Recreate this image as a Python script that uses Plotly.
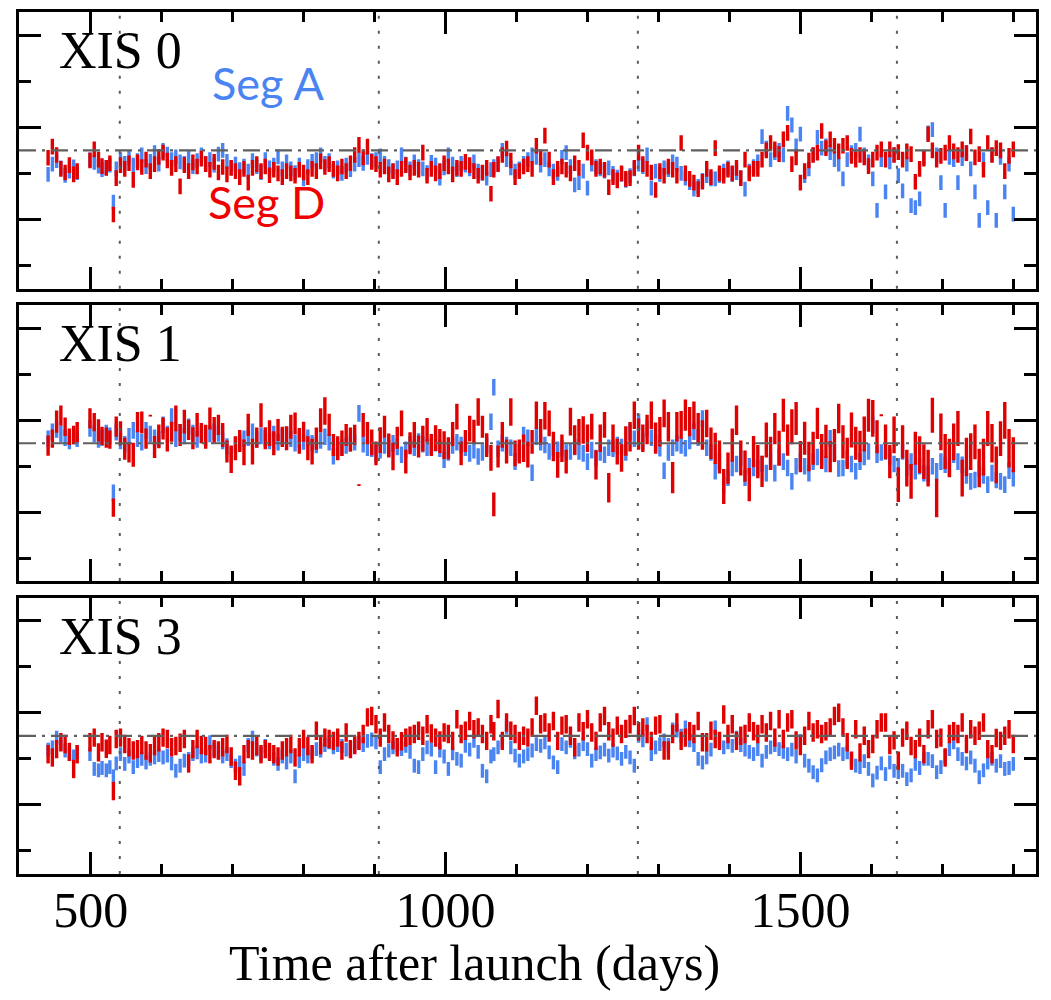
import plotly.graph_objects as go

# ---------------- data ----------------
days = [
    440, 446, 452, 458, 464, 470, 476, 481,
    499, 505, 511, 516, 522, 527, 532, 536,
    542, 548, 554, 560, 566, 572, 578, 584, 590, 596,
    602, 608, 614, 620, 626, 632, 638, 644, 650, 656,
    662, 668, 674, 680, 686, 692, 698, 704, 710, 716,
    722, 728, 734, 740, 746, 752, 758, 764, 770, 776,
    782, 788, 794, 800, 806, 812, 818, 824, 830, 836,
    842, 848, 854, 860, 866, 872, 878, 884, 890, 896,
    902, 908, 914, 920, 926, 932, 938, 944, 950, 956,
    962, 968, 974, 980, 986, 992, 998, 1004, 1010, 1016,
    1022, 1028, 1034, 1040, 1046, 1052, 1058, 1064, 1068, 1074,
    1080, 1086, 1092, 1098, 1104, 1110, 1116, 1122, 1128, 1134,
    1140, 1146, 1152, 1158, 1164, 1170, 1176, 1182, 1188, 1194,
    1200, 1206, 1212, 1218, 1224, 1230, 1236, 1242, 1248, 1254,
    1260, 1266, 1272, 1278, 1284, 1290, 1296, 1302, 1308, 1314,
    1320, 1326, 1332, 1338, 1344, 1350, 1356, 1362, 1368, 1374,
    1380, 1386, 1392, 1398, 1404, 1410, 1416, 1422, 1428, 1434,
    1440, 1446, 1452, 1458, 1464, 1470, 1476, 1482, 1488, 1494,
    1500, 1506, 1512, 1518, 1524, 1530, 1536, 1542, 1548, 1554,
    1560, 1566, 1572, 1578, 1584, 1590, 1596, 1602, 1608, 1614,
    1620, 1626, 1632, 1638, 1644, 1650, 1656, 1662, 1668, 1674,
    1680, 1686, 1692, 1698, 1704, 1710, 1716, 1722, 1728, 1734,
    1740, 1746, 1752, 1758, 1764, 1770, 1776, 1782, 1788, 1794, 1800,
]

xis0_seg_a = [
    2.98, 3.20, 3.28, 3.12, 2.96, 3.05, 3.14, 3.02,
    3.30, 3.24, 3.16, 3.08, 3.12, 3.18, 2.38, 3.10,
    3.30, 3.22, 3.35, 3.18, 3.28, 3.40, 3.15, 3.26, 3.45, 3.20,
    3.50, 3.42, 3.30, 3.36, 3.25, 3.22, 3.34, 3.15, 3.28, 3.40,
    3.22, 3.30, 3.18, 3.42, 3.50, 3.26, 3.12, 3.20, 3.08, 3.16,
    3.05, 3.28, 3.15, 3.02, 3.30, 3.12, 3.18, 3.36, 3.10, 3.25,
    3.10, 3.02, 3.18, 2.88, 3.15, 3.26, 3.30, 3.40, 3.22, 3.28,
    3.05, 3.12, 3.00, 3.18, 3.08, 3.20, 3.30, 3.22, 3.35, 3.28,
    3.30, 3.38, 3.22, 3.15, 3.05, 3.12, 3.40, 3.20, 3.10, 3.25,
    3.15, 3.10, 3.02, 3.24, 3.18, 2.90, 3.12, 3.40, 3.20, 3.08,
    3.22, 3.18, 3.10, 3.25, 3.05, 3.00, 2.90, 3.08, 3.15, 3.20,
    3.50, 3.30, 3.12, 3.05, 3.10, 3.22, 3.30, 3.40, 3.35, 3.18,
    3.30, 3.10, 3.05, 3.00, 3.35, 3.45, 3.15, 2.75, 2.80, 3.05,
    2.68, 3.20, 3.15, 3.10, 3.05, 3.12, 3.00, 2.92, 2.98, 2.85,
    2.95, 3.10, 3.20, 3.15, 3.40, 2.68, 3.05, 2.98, 3.12, 3.08,
    3.25, 3.20, 3.00, 2.90, 2.80, 2.66, 2.72, 2.85, 2.95, 2.88,
    2.88, 2.95, 3.05, 3.12, 2.98, 3.02, 2.90, 2.66, 3.05, 3.15,
    3.25, 3.80, 3.55, 3.30, 3.45, 3.50, 3.40, 4.30, 4.05, 3.60,
    3.85, 2.95, 3.10, 3.40, 3.78, 3.55, 3.60, 3.45, 3.30, 3.20,
    2.88, 3.30, 3.45, 3.50, 3.85, 3.40, 3.25, 2.88, 2.20, 3.30,
    2.60, 3.25, 3.40, 2.95, 2.62, 3.20, 2.30, 2.26, 2.45, 3.35,
    3.88, 3.95, 3.40, 2.80, 2.20, 3.35, 3.30, 2.80, 3.32, 3.45,
    3.10, 2.60, 1.98, 3.30, 2.26, 3.40, 1.98, 3.35, 2.60, 3.20, 2.12,
]

xis0_seg_d = [
    3.34, 3.58, 3.40, 3.10, 3.02, 3.18, 2.98, 3.05,
    3.28, 3.52, 3.30, 3.16, 3.12, 3.22, 2.11, 2.90,
    3.18, 3.10, 3.22, 2.86, 3.24, 3.14, 3.30, 3.05, 3.20, 3.36,
    3.45, 3.28, 3.12, 3.20, 2.72, 3.18, 3.05, 3.24, 3.15, 3.32,
    3.20, 3.08, 3.25, 3.02, 3.14, 2.98, 3.12, 3.05, 2.92, 3.10,
    2.80, 3.12, 3.20, 3.05, 3.15, 2.96, 3.08, 3.00, 2.92, 3.05,
    3.00, 2.95, 3.08, 3.02, 2.92, 3.10, 3.05, 3.26, 3.14, 3.20,
    3.10, 3.00, 3.15, 3.05, 3.22, 3.40, 3.62, 3.35, 3.58, 3.25,
    3.20, 3.08, 3.15, 2.98, 3.05, 2.92, 3.10, 3.18, 3.02, 3.12,
    3.08, 3.45, 2.95, 3.10, 3.00, 3.05, 3.22, 3.15, 2.98, 3.12,
    3.10, 3.25, 3.18, 3.05, 2.95, 3.02, 3.12, 2.56, 3.08, 3.20,
    3.40, 3.54, 3.28, 2.92, 3.05, 3.15, 3.20, 3.10, 3.60, 3.35,
    3.82, 3.30, 2.92, 3.10, 3.15, 3.08, 3.00, 3.22, 3.12, 3.72,
    3.45, 3.35, 3.10, 3.15, 3.08, 2.70, 2.92, 2.85, 3.00, 2.88,
    2.90, 3.12, 3.45, 3.20, 3.10, 3.02, 2.64, 3.05, 2.95, 3.15,
    3.08, 2.95, 3.66, 3.00, 2.88, 2.80, 2.66, 2.82, 3.10, 2.92,
    3.55, 3.00, 2.95, 3.08, 3.00, 3.12, 2.90, 3.30, 3.00, 3.10,
    3.10, 3.30, 3.50, 3.66, 3.52, 3.42, 3.74, 3.88, 3.20, 3.35,
    2.80, 3.05, 3.28, 3.40, 3.45, 3.92, 3.55, 3.74, 3.60, 3.48,
    3.60, 3.66, 3.38, 3.30, 3.40, 3.35, 3.16, 3.30, 3.45, 3.52,
    3.30, 3.52, 3.40, 3.46, 3.30, 3.48, 3.42, 2.82, 3.10, 3.32,
    3.85, 3.50, 3.30, 3.38, 3.45, 3.66, 3.48, 3.40, 3.52, 3.44,
    3.80, 3.35, 3.42, 3.08, 3.66, 3.40, 3.55, 3.50, 3.05, 3.38, 3.52,
]

xis1_seg_a = [
    3.60, 3.75, 3.80, 3.70, 3.62, 3.55, 3.66, 3.60,
    3.82, 3.70, 3.58, 3.62, 3.72, 3.66, 2.42, 3.74,
    3.55, 3.48, 3.65, 3.78, 3.60, 3.52, 3.78, 3.70, 3.62, 3.58,
    3.90, 3.70, 4.08, 3.60, 3.74, 3.66, 3.86, 3.72, 3.58, 3.68,
    3.62, 3.70, 3.75, 3.71, 3.55, 3.43, 3.25, 3.46, 3.52, 3.60,
    3.62, 3.75, 3.58, 3.66, 3.61, 3.55, 3.70, 3.52, 3.64, 3.68,
    3.60, 3.50, 3.58, 3.54, 3.62, 3.50, 3.46, 3.56, 3.64, 3.52,
    3.22, 3.32, 3.40, 3.45, 3.50, 3.52, 4.15, 3.48, 3.40, 3.38,
    3.28, 3.35, 3.45, 3.39, 3.50, 3.42, 3.25, 3.36, 3.48, 3.40,
    3.54, 3.48, 3.40, 3.43, 3.50, 3.38, 3.14, 3.30, 3.45, 3.52,
    3.46, 3.40, 3.28, 3.35, 3.21, 3.30, 3.45, 3.97, 4.72, 3.38,
    3.50, 3.46, 3.40, 3.10, 3.30, 3.68, 3.62, 2.86, 3.64, 3.52,
    3.46, 3.32, 3.40, 3.36, 3.39, 3.30, 3.32, 3.42, 3.32, 3.28,
    3.10, 3.35, 3.18, 3.30, 3.25, 3.40, 3.38, 3.46, 3.42, 3.30,
    3.75, 3.60, 3.97, 3.55, 3.82, 3.62, 3.50, 3.39, 2.90, 3.30,
    3.40, 3.50, 3.45, 3.39, 3.55, 3.75, 3.62, 4.04, 3.40, 3.30,
    2.89, 3.10, 2.60, 2.75, 2.96, 3.05, 3.18, 2.75, 3.00, 2.96,
    2.96, 3.05, 2.85, 3.10, 2.85, 3.20, 3.10, 2.96, 2.67, 3.00,
    3.10, 3.00, 2.85, 3.10, 3.20, 3.18, 3.05, 3.61, 3.30, 2.95,
    2.96, 3.18, 3.05, 2.89, 3.10, 3.20, 3.32, 3.90, 3.25, 3.30,
    3.32, 3.20, 3.05, 3.00, 3.32, 2.96, 3.10, 2.89, 3.00, 2.85,
    2.82, 3.00, 2.89, 3.10, 3.03, 2.95, 3.25, 3.10, 3.03, 2.80,
    2.67, 2.70, 2.95, 2.80, 2.60, 2.85, 2.70, 2.67, 2.60, 2.90, 2.74,
]

xis1_seg_d = [
    3.45, 3.60, 3.97, 4.10, 3.86, 3.64, 3.68, 3.74,
    4.04, 3.96, 3.78, 3.66, 3.62, 3.58, 2.10, 3.86,
    3.72, 3.38, 3.30, 3.25, 3.96, 3.95, 3.60, 4.10, 3.42, 3.65,
    3.82, 3.58, 3.75, 4.04, 3.68, 3.97, 3.79, 3.61, 3.90, 3.72,
    3.64, 4.04, 3.79, 3.90, 3.68, 3.32, 3.15, 3.39, 3.55, 3.30,
    3.90, 3.32, 3.62, 4.11, 3.61, 3.72, 3.50, 3.79, 3.64, 3.61,
    3.86, 3.93, 3.55, 3.75, 3.39, 3.32, 3.60, 4.00, 4.20, 3.90,
    3.46, 3.39, 3.50, 3.68, 3.58, 3.68, 2.59, 3.90, 3.72, 3.52,
    3.28, 3.57, 3.86, 3.45, 3.21, 3.62, 3.93, 3.10, 3.50, 3.68,
    3.43, 3.60, 3.79, 3.46, 3.61, 3.55, 3.46, 3.39, 3.70, 4.08,
    3.28, 3.55, 3.82, 3.75, 4.18, 3.86, 3.46, 3.18, 2.17, 3.21,
    3.68, 3.32, 4.18, 3.28, 3.32, 3.39, 3.25, 3.53, 4.11, 3.75,
    4.10, 3.93, 3.43, 3.03, 3.39, 3.10, 3.97, 3.57, 3.75, 3.79,
    3.61, 3.86, 3.03, 3.61, 3.90, 2.53, 3.61, 3.32, 3.18, 3.55,
    3.64, 4.11, 3.70, 3.61, 3.80, 4.11, 3.61, 3.75, 4.15, 3.86,
    2.75, 3.86, 3.90, 4.11, 3.97, 4.11, 3.82, 3.68, 3.93, 3.50,
    3.39, 3.20, 2.56, 2.96, 3.46, 4.00, 3.18, 3.00, 2.60, 3.32,
    3.10, 2.89, 3.57, 3.28, 3.82, 3.39, 4.11, 3.57, 3.86, 4.04,
    3.21, 3.61, 3.21, 3.39, 3.93, 3.32, 3.54, 3.21, 3.45, 4.04,
    3.53, 3.28, 3.79, 3.50, 3.43, 3.70, 4.11, 4.04, 3.64, 4.11,
    3.53, 3.10, 3.68, 2.60, 3.53, 2.96, 2.67, 3.39, 3.25, 3.10,
    2.96, 4.11, 2.31, 3.75, 3.32, 3.18, 3.53, 3.82, 2.74, 3.20,
    3.32, 3.53, 2.96, 3.20, 3.82, 3.50, 3.03, 3.60, 4.00, 3.39, 3.25,
]

xis1_seg_d_err = [
    0.22, 0.20, 0.24, 0.22, 0.20, 0.18, 0.20, 0.22,
    0.22, 0.20, 0.24, 0.20, 0.22, 0.20, 0.20, 0.22,
    0.26, 0.24, 0.22, 0.26, 0.22, 0.24, 0.22, 0.02, 0.24, 0.26,
    0.24, 0.26, 0.22, 0.28, 0.24, 0.26, 0.22, 0.24, 0.26, 0.22,
    0.26, 0.24, 0.28, 0.22, 0.26, 0.24, 0.30, 0.26, 0.24, 0.28,
    0.24, 0.28, 0.22, 0.26, 0.24, 0.28, 0.26, 0.24, 0.22, 0.26,
    0.26, 0.24, 0.28, 0.22, 0.26, 0.28, 0.24, 0.26, 0.30, 0.24,
    0.24, 0.26, 0.28, 0.24, 0.26, 0.22, 0.02, 0.26, 0.24, 0.28,
    0.26, 0.28, 0.24, 0.26, 0.30, 0.24, 0.28, 0.26, 0.24, 0.28,
    0.24, 0.28, 0.26, 0.24, 0.28, 0.26, 0.30, 0.24, 0.26, 0.28,
    0.26, 0.24, 0.28, 0.26, 0.30, 0.24, 0.26, 0.28, 0.26, 0.24,
    0.28, 0.26, 0.30, 0.28, 0.26, 0.30, 0.28, 0.26, 0.30, 0.28,
    0.30, 0.28, 0.32, 0.28, 0.30, 0.26, 0.30, 0.32, 0.28, 0.30,
    0.30, 0.28, 0.32, 0.30, 0.28, 0.32, 0.30, 0.28, 0.30, 0.32,
    0.32, 0.30, 0.34, 0.30, 0.32, 0.30, 0.34, 0.32, 0.30, 0.32,
    0.34, 0.32, 0.30, 0.34, 0.32, 0.30, 0.34, 0.32, 0.30, 0.34,
    0.34, 0.36, 0.38, 0.34, 0.36, 0.32, 0.38, 0.34, 0.36, 0.34,
    0.36, 0.34, 0.38, 0.36, 0.34, 0.38, 0.36, 0.34, 0.38, 0.36,
    0.34, 0.36, 0.32, 0.36, 0.34, 0.38, 0.36, 0.34, 0.36, 0.32,
    0.36, 0.34, 0.38, 0.36, 0.34, 0.38, 0.36, 0.40, 0.36, 0.02,
    0.38, 0.36, 0.40, 0.38, 0.36, 0.40, 0.38, 0.36, 0.40, 0.38,
    0.40, 0.38, 0.42, 0.40, 0.38, 0.42, 0.40, 0.38, 0.40, 0.42,
    0.40, 0.38, 0.42, 0.40, 0.38, 0.42, 0.40, 0.38, 0.40, 0.42, 0.38,
]

xis3_seg_a = [
    3.20, 3.25, 3.46, 3.32, 3.18, 3.10, 3.05, 3.15,
    3.10, 2.78, 2.75, 2.80, 2.75, 2.82, 2.62, 2.90,
    3.10, 2.89, 3.05, 2.82, 2.95, 3.00, 2.92, 3.00, 3.03, 3.08,
    3.03, 3.07, 2.90, 2.74, 2.85, 2.96, 3.00, 3.10, 3.14, 3.05,
    3.07, 3.36, 3.20, 3.14, 3.05, 3.10, 2.95, 2.85, 2.92, 2.78,
    3.30, 3.46, 3.20, 3.10, 3.28, 3.15, 3.00, 2.89, 3.05, 2.92,
    3.05, 2.62, 2.95, 3.10, 3.05, 3.14, 3.21, 3.18, 3.30, 3.36,
    3.25, 3.30, 3.28, 3.20, 3.21, 3.28, 3.35, 3.30, 3.39, 3.42,
    3.36, 2.82, 3.10, 3.18, 3.25, 3.30, 3.21, 3.28, 3.15, 2.85,
    2.82, 3.10, 3.25, 3.20, 2.82, 3.18, 3.05, 2.78, 3.12, 3.00,
    2.96, 3.28, 3.20, 3.39, 3.15, 2.74, 2.62, 3.05, 3.10, 3.25,
    3.39, 3.68, 3.25, 3.07, 2.96, 3.05, 3.10, 3.18, 3.32, 3.28,
    3.36, 3.14, 2.92, 2.82, 3.32, 3.25, 3.39, 3.14, 3.20, 3.32,
    3.21, 2.96, 3.10, 3.14, 3.20, 3.07, 3.18, 3.12, 3.00, 3.15,
    3.03, 2.85, 3.50, 3.40, 3.75, 3.10, 3.25, 3.32, 3.40, 3.30,
    3.64, 3.61, 3.50, 3.68, 3.40, 3.30, 3.00, 2.92, 3.03, 3.20,
    3.68, 3.40, 3.25, 3.36, 3.28, 3.46, 3.30, 3.20, 3.15, 3.10,
    3.21, 2.96, 3.15, 3.25, 3.30, 3.21, 3.15, 3.10, 3.20, 3.05,
    3.39, 2.96, 2.85, 2.71, 2.64, 2.86, 3.03, 3.10, 3.14, 3.20,
    3.10, 3.14, 2.99, 2.85, 2.82, 2.95, 2.78, 2.53, 2.70, 2.90,
    2.67, 2.92, 2.74, 2.71, 2.74, 2.56, 2.64, 2.89, 2.80, 3.00,
    3.00, 2.95, 2.71, 2.82, 3.05, 3.21, 3.36, 3.10, 3.00, 2.90,
    3.03, 2.85, 2.60, 2.75, 2.92, 3.00, 2.85, 2.95, 2.78, 2.80, 2.89,
]

xis3_seg_d = [
    3.10, 3.03, 3.21, 3.36, 3.32, 3.15, 2.78, 3.10,
    3.36, 3.46, 3.14, 3.36, 3.22, 3.30, 2.30, 3.43,
    3.46, 3.32, 3.25, 3.18, 3.21, 3.30, 3.18, 3.12, 3.28, 3.36,
    3.46, 3.43, 3.25, 3.28, 3.35, 3.43, 2.90, 3.21, 3.43, 3.30,
    3.28, 3.10, 3.21, 3.18, 3.25, 3.32, 3.05, 2.74, 2.62, 3.10,
    3.21, 3.18, 3.28, 3.10, 3.21, 3.15, 3.10, 3.05, 3.18, 3.25,
    3.32, 3.03, 3.25, 3.43, 3.28, 3.10, 3.61, 3.30, 3.46, 3.43,
    3.39, 3.46, 3.18, 3.57, 3.21, 3.30, 3.39, 3.54, 3.90, 3.93,
    3.75, 3.46, 3.79, 3.54, 3.40, 3.25, 3.38, 3.46, 3.50, 3.54,
    3.61, 3.50, 3.75, 3.55, 3.46, 3.40, 3.57, 3.54, 3.39, 3.86,
    3.54, 3.61, 3.82, 3.64, 3.68, 3.54, 3.39, 3.75, 3.60, 4.08,
    3.39, 3.79, 3.61, 3.54, 3.39, 3.50, 3.46, 3.68, 4.15, 3.75,
    3.79, 3.57, 3.82, 3.39, 3.72, 3.75, 3.50, 3.25, 3.79, 3.60,
    3.86, 3.57, 3.39, 3.79, 3.93, 3.60, 3.46, 3.72, 3.54, 3.65,
    3.75, 3.93, 3.60, 3.68, 3.54, 3.39, 3.72, 3.75, 3.18, 3.18,
    3.54, 3.79, 3.39, 3.46, 3.60, 3.54, 3.82, 3.36, 3.36, 3.61,
    3.43, 3.39, 3.96, 3.54, 3.75, 3.39, 3.50, 3.54, 3.79, 3.60,
    3.54, 3.75, 3.57, 3.82, 3.46, 3.86, 3.43, 3.79, 3.86, 3.40,
    3.28, 3.50, 3.82, 3.57, 3.64, 3.54, 3.60, 3.68, 3.93, 4.00,
    3.68, 3.36, 2.96, 3.64, 3.14, 3.50, 3.21, 3.32, 3.64, 3.79,
    3.79, 3.30, 3.40, 2.96, 3.46, 3.61, 3.28, 3.21, 3.46, 3.10,
    3.64, 3.86, 3.43, 3.46, 3.03, 3.54, 3.60, 3.54, 3.79, 3.32,
    3.64, 3.50, 3.61, 3.79, 3.21, 3.10, 3.45, 3.39, 3.50, 3.64, 3.32,
]

# half-lengths of the error bars (same units as the values)
xis0_seg_a_err = 0.16
xis0_seg_d_err = 0.17
xis1_seg_a_err = 0.18
xis3_seg_a_err = 0.15
xis3_seg_d_err = 0.20

panel_names = ["XIS 0", "XIS 1", "XIS 3"]
reference_level = 3.5
year_marks = [541, 906, 1271, 1636]
x_ticks = [500, 1000, 1500]
x_title = "Time after launch (days)"

# ---------------- styling ----------------
BLUE = "#4A84F2"
RED = "#E00000"
OFF = 8  # the page body margin of the html page
W, H = 1051 - 2 * OFF, 1000 - 2 * OFF
# wanted page positions of the plot area
L_PG, R_PG, T_PG, B_PG = 19, 1035.7, 9.3, 874.3
L_PX, R_PX, T_PX, B_PX = L_PG - OFF, R_PG - OFF, T_PG - OFF, B_PG - OFF
plot_h = B_PX - T_PX
domains_pg = [(9.3, 287.0), (303.7, 580.4), (596.9, 874.3)]
domains = [[(B_PG - b) / plot_h, (B_PG - t) / plot_h] for (t, b) in domains_pg]

series = [
    (xis0_seg_a, xis0_seg_a_err, xis0_seg_d, xis0_seg_d_err),
    (xis1_seg_a, xis1_seg_a_err, xis1_seg_d, xis1_seg_d_err),
    (xis3_seg_a, xis3_seg_a_err, xis3_seg_d, xis3_seg_d_err),
]

fig = go.Figure()

def err_spec(e, color):
    if isinstance(e, list):
        d = dict(type="data", array=e)
    else:
        d = dict(type="constant", value=e)
    d.update(thickness=3.4, width=0, color=color, visible=True)
    return d

for i, (a, ae, d, de) in enumerate(series):
    k = "" if i == 0 else str(i + 1)
    xa, ya = "x" + k, "y" + k
    fig.add_trace(go.Scatter(x=days, y=a, mode="markers", xaxis=xa, yaxis=ya,
                             marker=dict(size=1, color=BLUE), error_y=err_spec(ae, BLUE),
                             showlegend=False, hoverinfo="skip"))
    fig.add_trace(go.Scatter(x=days, y=d, mode="markers", xaxis=xa, yaxis=ya,
                             marker=dict(size=1, color=RED), error_y=err_spec(de, RED),
                             showlegend=False, hoverinfo="skip"))

axis_common = dict(showline=True, linecolor="black", linewidth=2.5, mirror="ticks",
                   ticks="inside", tickcolor="black", tickwidth=2.5,
                   showgrid=False, zeroline=False)

layout = dict(width=W, height=H, plot_bgcolor="white", paper_bgcolor="white",
              margin=dict(l=L_PX, r=W - R_PX, t=T_PX, b=H - B_PX, pad=0),
              showlegend=False)

for i in range(3):
    k = "" if i == 0 else str(i + 1)
    layout["xaxis" + k] = dict(axis_common, range=[399, 1832], anchor="y" + k,
                               domain=[0, 1], tickmode="array", tickvals=x_ticks,
                               ticklen=22,
                               minor=dict(dtick=100, tick0=0, ticklen=10, ticks="inside",
                                          tickwidth=2.5, tickcolor="black"),
                               showticklabels=(i == 2),
                               tickfont=dict(family="Liberation Serif", size=50, color="black"),
                               ticklabelstandoff=-10)
    layout["yaxis" + k] = dict(axis_common, range=[0.5, 6.5], anchor="x" + k,
                               domain=domains[i], dtick=2, tick0=0, ticklen=22,
                               minor=dict(dtick=1, tick0=0, ticklen=12, ticks="inside",
                                          tickwidth=2.5, tickcolor="black"),
                               showticklabels=False)
fig.update_layout(**layout)

shapes = []
annotations = []
for i in range(3):
    k = "" if i == 0 else str(i + 1)
    xa, ya = "x" + k, "y" + k
    for xm in year_marks:
        shapes.append(dict(type="line", xref=xa, yref=ya + " domain", x0=xm, x1=xm, y0=0, y1=1,
                           line=dict(color="#5a5a5a", width=2, dash="3px,12px"), layer="above"))
    shapes.append(dict(type="line", xref=xa + " domain", yref=ya, x0=0, x1=1,
                       y0=reference_level, y1=reference_level,
                       line=dict(color="#5f5f5f", width=2.2, dash="17px,6px,3px,6px"), layer="above"))
    annotations.append(dict(text=panel_names[i], xref=xa + " domain", yref=ya + " domain",
                            x=0.037, y=0.86, xanchor="left", yanchor="middle", showarrow=False,
                            font=dict(family="Liberation Serif", size=52, color="black")))

annotations.append(dict(text="Seg A", xref="x domain", yref="y domain", x=0.245, y=0.743,
                        xanchor="center", yanchor="middle", showarrow=False,
                        font=dict(family="Lato", size=45, color="#4A84F2")))
annotations.append(dict(text="Seg D", xref="x domain", yref="y domain", x=0.243, y=0.315,
                        xanchor="center", yanchor="middle", showarrow=False,
                        font=dict(family="Lato", size=45, color="#F00000")))
annotations.append(dict(text=x_title, xref="paper", yref="paper",
                        x=(474 - L_PG) / (R_PG - L_PG), y=(B_PG - 964) / plot_h,
                        xanchor="center", yanchor="middle", showarrow=False,
                        font=dict(family="Liberation Serif", size=50, color="black")))

fig.update_layout(shapes=shapes, annotations=annotations)
fig.write_html("out.html")
